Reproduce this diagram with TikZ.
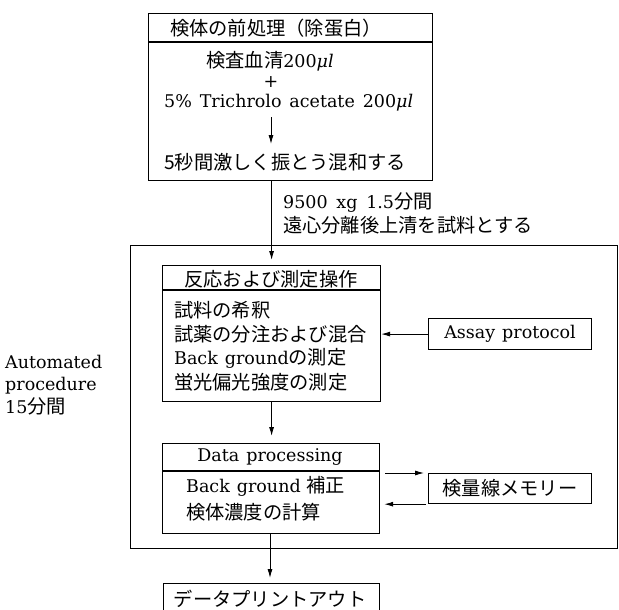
\documentclass[tikz,border=0pt]{standalone}
\usepackage{fontspec}
\setmainfont{DejaVu Serif}
\newfontfamily\jpfont{Noto Sans CJK JP}[Scale=1.1]
\newcommand\J[1]{{\jpfont #1}}
\newcommand\ul{\textit{μl}}
\usetikzlibrary{arrows.meta,calc}
\begin{document}
\begin{tikzpicture}[x=1pt,y=-1pt,
  box/.style={draw,line width=1.2pt,inner sep=0pt,anchor=north west},
  txt/.style={inner sep=0pt,font=\fontsize{17.5}{24}\selectfont},
  lt/.style={txt,anchor=west},
  sep/.style={line width=1.2pt},
  arr/.style={line width=0.9pt,-{Latex[length=9pt,width=5pt]}}]
\clip (0,0) rectangle (619,610);
\useasboundingbox (0,0) rectangle (619,610);
\fill[white] (0,0) rectangle (619,610);

% pretreatment box
\node[box,minimum width=284pt,minimum height=167pt] (pre) at (148,13) {};
\draw[sep] (148,42) -- (432,42);
\node[txt] (preh) at (276,28) {\J{検体の前処理（除蛋白）}};
\node[txt] (p1) at (270,61) {\J{検査血清}200\ul};
\node[txt] (plus) at (271,82) {+};
\node[lt] (p3) at (164,103) {5\%\hspace{0.45em}Trichrolo\hspace{0.45em}acetate\hspace{0.45em}200\ul};
\node[lt] (p5) at (164,162) {\J{5秒間激しく振とう混和する}};
\draw[arr] (plus |- 0,117) -- (plus |- 0,144);

% centrifuge label
\node[lt] (c1) at (283,203) {9500\hspace{0.5em}xg\hspace{0.5em}1.5\J{分間}};
\node[lt] (c2) at (283,225) {\J{遠心分離後上清を試料とする}};

% outer automated frame
\node[box,minimum width=487pt,minimum height=303pt] (outer) at (130,245) {};
\node[lt,align=left,font=\fontsize{17.5}{22.5}\selectfont] (auto) at (5,385) {Automated\\procedure\\15\J{分間}};

% reaction box
\node[box,minimum width=218pt,minimum height=136pt] (react) at (162,265) {};
\draw[sep] (162,290) -- (380,290);
\node[txt] (rh) at (271,279) {\J{反応および測定操作}};
\node[lt] (r1) at (174,310) {\J{試料の希釈}};
\node[lt] (r2) at (174,334) {\J{試薬の分注および混合}};
\node[lt] (r3) at (174,358) {Back\hspace{0.4em}ground\J{の測定}};
\node[lt] (r4) at (174,382) {\J{蛍光偏光強度の測定}};

% assay protocol
\node[box,minimum width=163pt,minimum height=31pt] (assay) at (428,318) {};
\node[txt] (at) at (assay.center) {Assay\hspace{0.4em}protocol};

% data processing box
\node[box,minimum width=217pt,minimum height=90pt] (data) at (162,443) {};
\draw[sep] (162,471) -- (379,471);
\node[txt] (dh) at (270,457) {Data\hspace{0.4em}processing};
\node[lt] (d1) at (186,486) {Back\hspace{0.4em}ground \J{補正}};
\node[lt] (d2) at (186,512) {\J{検体濃度の計算}};

% calibration memory
\node[box,minimum width=163pt,minimum height=30pt] (mem) at (428,473) {};
\node[txt] (mt) at (mem.center) {\J{検量線メモリー}};

% print out
\node[box,minimum width=216pt,minimum height=40pt] (print) at (163,583) {};
\node[txt] (pt) at (270,599) {\J{データプリントアウト}};

% connectors
\draw[arr,shorten >=5pt] (pre.south -| react.north) -- (react.north);
\draw[arr] (assay.west) -- (assay.west -| react.east);
\draw[arr,shorten >=7pt] (react.south) -- (react.south |- data.north);
\draw[arr] ([xshift=5pt]data.east |- mem.north west) -- ([xshift=-4pt]mem.north west);
\draw[arr] ([xshift=-2pt]mem.south west) -- ([xshift=4pt]mem.south west -| data.east);
\draw[arr,shorten >=5pt] (data.south -| pt) -- (print.north -| pt);
\end{tikzpicture}
\end{document}
